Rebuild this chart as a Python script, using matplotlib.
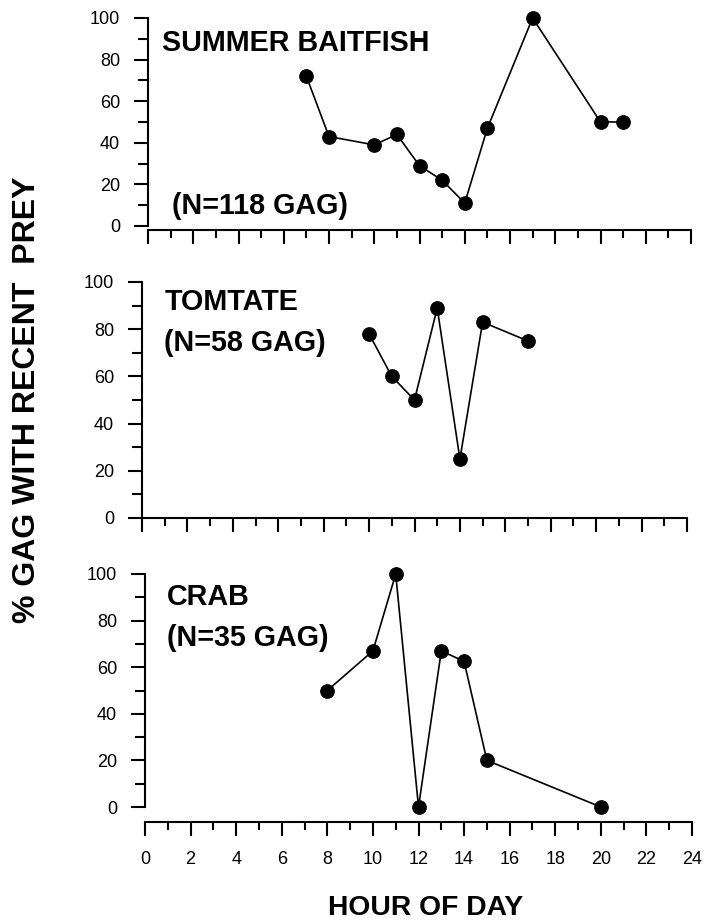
import matplotlib
matplotlib.use("Agg")
import matplotlib.pyplot as plt
from matplotlib.ticker import MultipleLocator

plt.rcParams['font.family'] = ['Liberation Sans', 'DejaVu Sans']

# Hour of day and % of gag with recent prey, one series per prey type
baitfish_hours = [7, 8, 10, 11, 12, 13, 14, 15, 17, 20, 21]
baitfish_pct = [72, 43, 39, 44, 29, 22, 11, 47, 100, 50, 50]

tomtate_hours = [10, 11, 12, 13, 14, 15, 17]
tomtate_pct = [78, 60, 50, 89, 25, 83, 75]

crab_hours = [8, 10, 11, 12, 13, 14, 15, 20]
crab_pct = [50, 67, 100, 0, 67, 62.5, 20, 0]

panel_titles = ["SUMMER BAITFISH", "TOMTATE", "CRAB"]
panel_counts = ["(N=118 GAG)", "(N=58 GAG)", "(N=35 GAG)"]
x_ticks = list(range(0, 25, 2))
y_ticks = [0, 20, 40, 60, 80, 100]

W, H = 706, 924
fig = plt.figure(figsize=(W / 100, H / 100), dpi=100)


def add_panel(x0, x1, ytop, ybot):
    return fig.add_axes([x0 / W, 1 - ybot / H, (x1 - x0) / W, (ybot - ytop) / H])


# pixel frames (left, right, y of 100, y of 0) and x-axis drop in points
frames = [
    (148, 691, 18, 226, 3.0),
    (142, 687, 282, 518, 0.0),
    (145, 692, 574, 807, 10.8),
]
series = [
    (baitfish_hours, baitfish_pct),
    (tomtate_hours, tomtate_pct),
    (crab_hours, crab_pct),
]
title_pos = [
    ((162, 43), (172, 206)),
    ((165, 302), (164, 343)),
    ((167, 597), (167, 638)),
]

for i, ((x0, x1, ytop, ybot, drop), (hx, py)) in enumerate(zip(frames, series)):
    ax = add_panel(x0, x1, ytop, ybot)
    ax.set_xlim(0, 24)
    ax.set_ylim(0, 100)
    ax.plot(hx, py, color='black', lw=1.2, marker='o', ms=9.6,
            markerfacecolor='black', markeredgecolor='black', clip_on=False,
            zorder=3)

    for s in ('top', 'right'):
        ax.spines[s].set_visible(False)
    ax.spines['left'].set_bounds(0, 100)
    ax.spines['bottom'].set_bounds(0, 24)
    ax.spines['bottom'].set_position(('outward', drop))
    for s in ('left', 'bottom'):
        ax.spines[s].set_linewidth(1.5)

    ax.set_yticks(y_ticks)
    ax.yaxis.set_minor_locator(MultipleLocator(10))
    ax.set_xticks(x_ticks)
    ax.xaxis.set_minor_locator(MultipleLocator(1))
    ax.tick_params(axis='y', which='major', direction='out', length=10,
                   width=1.5, pad=10, labelsize=13)
    ax.tick_params(axis='y', which='minor', direction='out', length=7,
                   width=1.5)
    ax.tick_params(axis='x', which='major', direction='out', length=10,
                   width=1.5, pad=11, labelsize=13)
    ax.tick_params(axis='x', which='minor', direction='out', length=6,
                   width=1.5)
    if i < 2:
        ax.tick_params(axis='x', which='both', labelbottom=False)

    (tx, ty), (nx, ny) = title_pos[i]
    fig.text(tx / W, 1 - ty / H, panel_titles[i], fontsize=20.7,
             fontweight='bold', ha='left', va='center')
    fig.text(nx / W, 1 - ny / H, panel_counts[i], fontsize=20.7,
             fontweight='bold', ha='left', va='center')

fig.text(426 / W, 1 - 908 / H, "HOUR OF DAY", fontsize=20.3, fontweight='bold',
         ha='center', va='center')
fig.text(27 / W, 1 - 400 / H, "% GAG WITH RECENT  PREY", fontsize=23,
         fontweight='bold', ha='center', va='center', rotation=90)

fig.savefig("out.png", dpi=100)
